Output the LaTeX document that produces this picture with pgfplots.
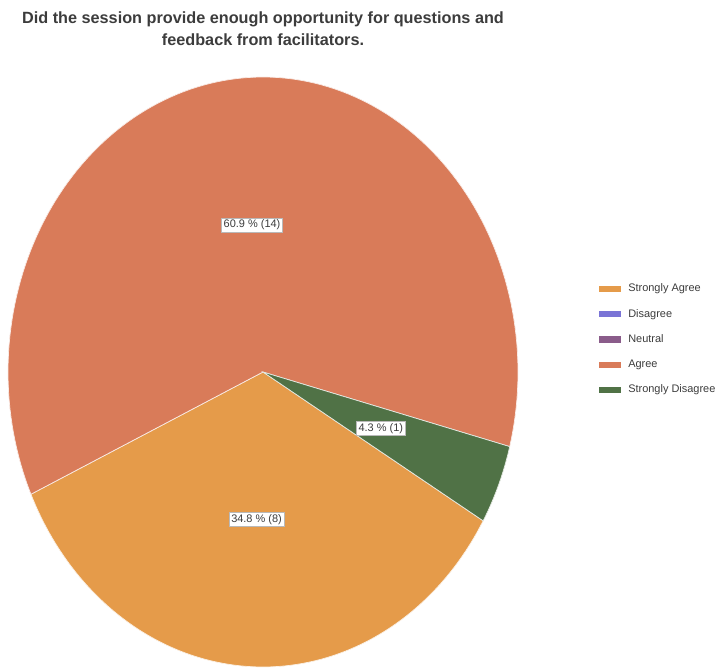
\documentclass[border=0pt]{standalone}
\usepackage{pgfplots}
\pgfplotsset{compat=1.18}
\usepackage{fontspec}
\setmainfont{Liberation Sans}
\definecolor{cSA}{RGB}{229,155,74}
\definecolor{cD}{RGB}{122,116,214}
\definecolor{cN}{RGB}{138,92,138}
\definecolor{cA}{RGB}{217,123,89}
\definecolor{cSD}{RGB}{80,114,70}
\definecolor{txt}{RGB}{60,60,60}
\begin{document}
\begin{tikzpicture}
% counts per answer
\def\nSA{8}\def\nD{0}\def\nN{0}\def\nA{14}\def\nSD{1}
\pgfmathsetmacro\tot{\nSA+\nD+\nN+\nA+\nSD}
\pgfmathsetmacro\aS{-30.3}
\pgfmathsetmacro\aSA{\aS-360*\nSA/\tot}
\pgfmathsetmacro\aA{\aSA-360*\nA/\tot}
\pgfmathsetmacro\aSD{\aA-360*\nSD/\tot}
\pgfmathsetmacro\mSA{(\aS+\aSA)/2}
\pgfmathsetmacro\mA{(\aSA+\aA)/2}
\pgfmathsetmacro\mSD{(\aA+\aSD)/2}
\useasboundingbox (0,0) rectangle (721bp,-671bp);
\node[align=center, font=\fontsize{16.3}{22}\selectfont\bfseries, text=txt, anchor=north] at (263bp,-8bp)
  {Did the session provide enough opportunity for questions and\\feedback from facilitators.};
\begin{axis}[at={(263bp,-372bp)}, anchor=center, scale only axis,
  width=510bp, height=590bp, xmin=-1, xmax=1, ymin=-1, ymax=1,
  hide axis, clip=false,
  legend image code/.code={\path[#1,draw=none] (0bp,-3.2bp) rectangle (22bp,3.2bp);},
  legend style={at={(1.159,0.65)}, anchor=north west, draw=none, fill=none,
    inner sep=0pt, font=\fontsize{11}{13}\selectfont, text=txt,
    nodes={inner sep=0pt, text height=8bp, text depth=2.5bp},
    row sep=14.8bp, column sep=7bp},
  legend cell align=left]
\addplot[fill=cSA, draw=white!85!cSA, line width=0.7bp, domain=\aSA:\aS, samples=90, variable=\t, forget plot]
  ({cos(\t)},{sin(\t)}) -- (axis cs:0,0) -- cycle;
\addplot[fill=cA, draw=white!85!cA, line width=0.7bp, domain=\aA:\aSA, samples=140, variable=\t, forget plot]
  ({cos(\t)},{sin(\t)}) -- (axis cs:0,0) -- cycle;
\addplot[fill=cSD, draw=white!85!cSD, line width=0.7bp, domain=\aSD:\aA, samples=20, variable=\t, forget plot]
  ({cos(\t)},{sin(\t)}) -- (axis cs:0,0) -- cycle;
\addlegendimage{fill=cSA}\addlegendentry{Strongly Agree}
\addlegendimage{fill=cD}\addlegendentry{Disagree}
\addlegendimage{fill=cN}\addlegendentry{Neutral}
\addlegendimage{fill=cA}\addlegendentry{Agree}
\addlegendimage{fill=cSD}\addlegendentry{Strongly Disagree}
\tikzset{lab/.style={fill=white, draw=gray!55, line width=0.5bp, inner sep=2bp, font=\fontsize{11}{13}\selectfont, text=txt}}
\node[lab] at (axis cs:{0.5*cos(\mA)},{0.5*sin(\mA)}) {60.9 \% (14)};
\node[lab] at (axis cs:{0.5*cos(\mSA)},{0.5*sin(\mSA)}) {34.8 \% (8)};
\node[lab] at (axis cs:{0.5*cos(\mSD)},{0.5*sin(\mSD)}) {4.3 \% (1)};
\end{axis}
\end{tikzpicture}
\end{document}
